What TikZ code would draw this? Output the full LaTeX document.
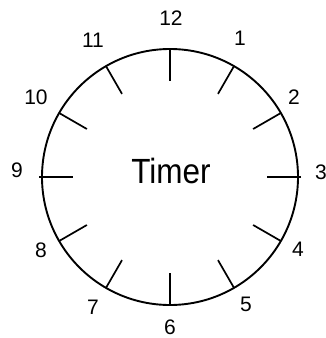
\documentclass[tikz,border=0pt]{standalone}
\usepackage{fontspec}
\setmainfont{Liberation Sans}
\usetikzlibrary{calc}
\begin{document}
\begin{tikzpicture}[x=1pt,y=-1pt,
  rim/.style={line width=1.9pt},
  tickline/.style={line width=1.7pt},
  num/.style={font=\fontsize{21}{21}\selectfont, inner sep=0pt},
  title/.style={font=\fontsize{35}{35}\selectfont, inner sep=0pt}]
\useasboundingbox (0,0) rectangle (326,338);
\coordinate (C) at (170,177);
\draw[rim] (C) circle (128pt);
\foreach \a in {30,60,90,120,150,210,240,270,300,330}{
  \draw[tickline] ($(C)+(\a:128pt)$) -- ($(C)+(\a:96pt)$);
}
\foreach \a in {0,180}{
  \draw[tickline] ($(C)+(\a:131pt)$) -- ($(C)+(\a:97pt)$);
}
\node[num] (n12) at (171,18) {12};
\node[num] (n1) at (240,38) {1};
\node[num] (n2) at (294,97) {2};
\node[num] (n3) at (321,172) {3};
\node[num] (n4) at (298,249) {4};
\node[num] (n5) at (246,304) {5};
\node[num] (n6) at (170,327) {6};
\node[num] (n7) at (93,307) {7};
\node[num] (n8) at (41,250) {8};
\node[num] (n9) at (17,170) {9};
\node[num] (n10) at (36,97) {10};
\node[num] (n11) at (93,40) {11};
\node[title] (t) at (171,171) {\scalebox{0.9}[1]{Timer}};
\end{tikzpicture}
\end{document}
